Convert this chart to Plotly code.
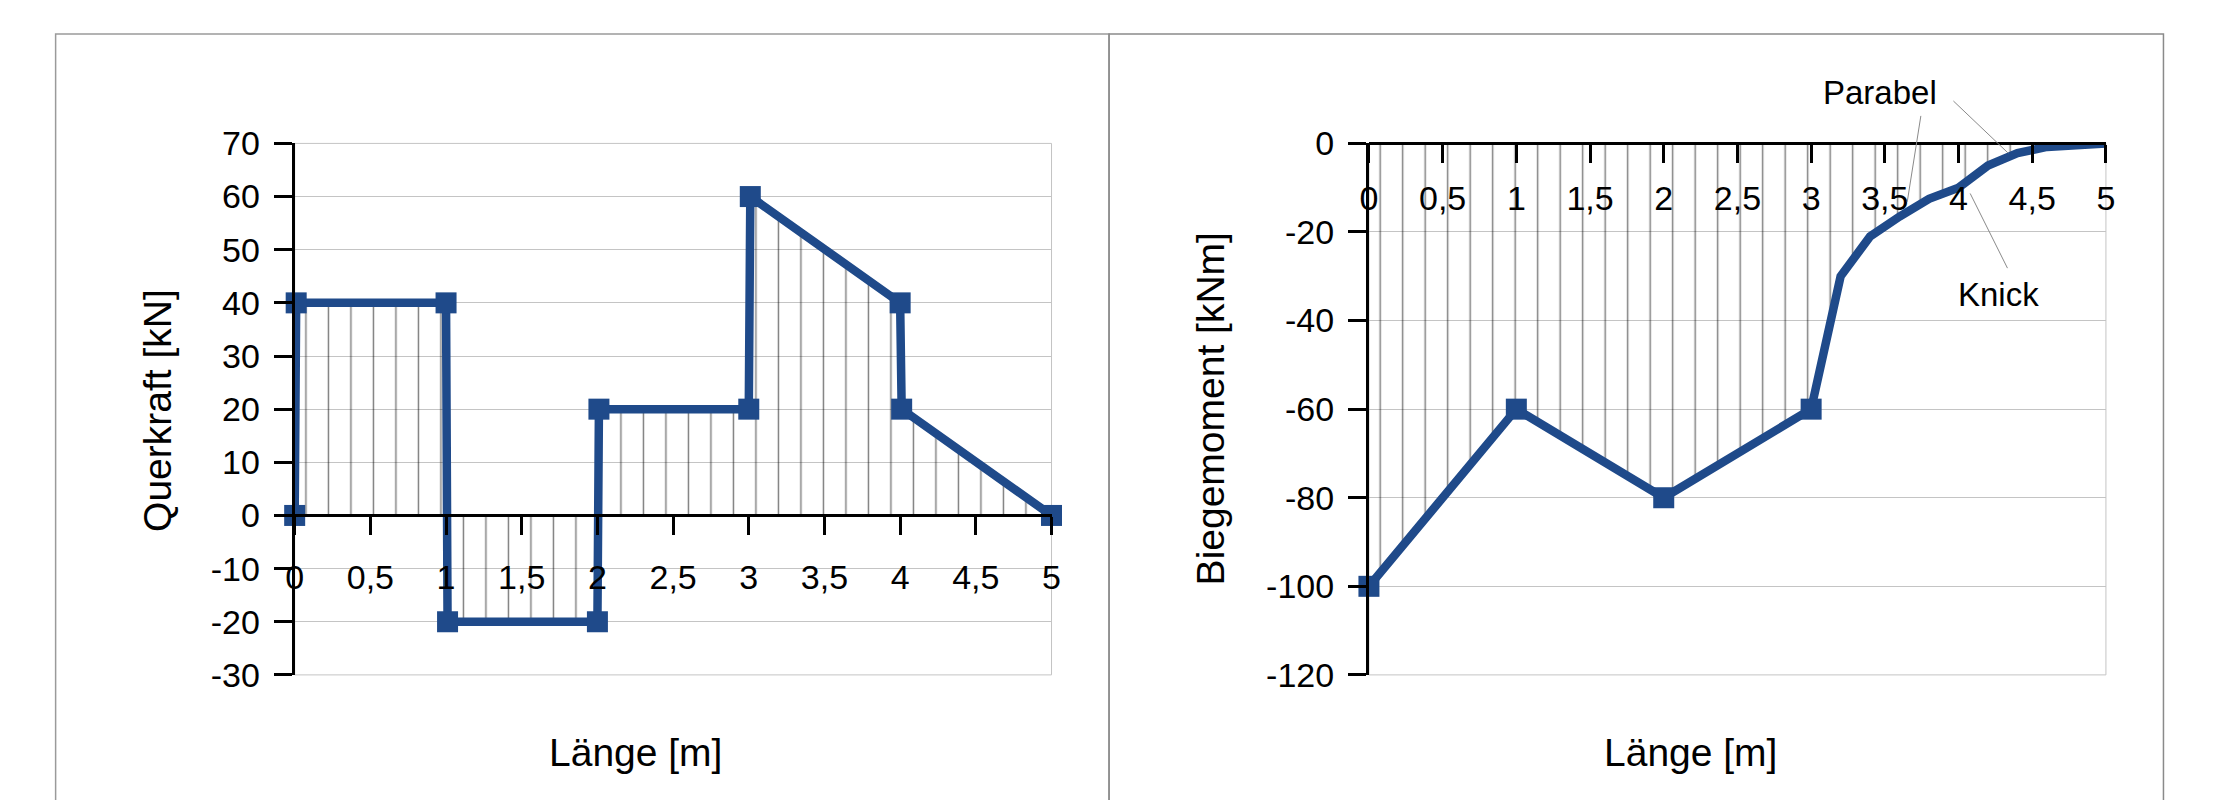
import plotly.graph_objects as go

W, H = 2230, 800

# Querkraft (shear force) diagram
v_x = [0, 0.01, 1, 1.01, 2, 2.01, 3, 3.01, 4, 4.01, 5]
v_y = [0, 40, 40, -20, -20, 20, 20, 60, 40, 20, 0]

# Biegemoment (bending moment) diagram
m_x = [0, 1, 2, 3, 3.2, 3.4, 3.6, 3.8, 4, 4.2, 4.4, 4.6, 5]
m_y = [-100, -60, -80, -60, -30, -21, -16.5, -12.5, -10, -5, -2.2, -0.8, 0]
m_marked = 4  # only the first points carry markers

x_ticks = [0, 0.5, 1, 1.5, 2, 2.5, 3, 3.5, 4, 4.5, 5]
x_ticktext = ["0", "0,5", "1", "1,5", "2", "2,5", "3", "3,5", "4", "4,5", "5"]
v_yticks = [-30, -20, -10, 0, 10, 20, 30, 40, 50, 60, 70]
m_yticks = [-120, -100, -80, -60, -40, -20, 0]

BLUE = "#1f4a8a"
FONT = "Liberation Sans, Arial, sans-serif"


def px_x(p):
    return p / W


def px_y(p):
    # screenshot came out slightly squeezed vertically, compensate
    return 1 - ((p - 16) / 0.957) / H


hatch = dict(shape="|", size=22.5, solidity=0.065,
             fgcolor="#000000", bgcolor="rgba(0,0,0,0)", fillmode="overlay")

fig = go.Figure()

fig.add_trace(go.Scatter(
    x=v_x, y=v_y, xaxis="x", yaxis="y",
    mode="lines+markers",
    line=dict(color=BLUE, width=8.5),
    marker=dict(symbol="square", size=21, color=BLUE),
    fill="tozeroy", fillcolor="rgba(0,0,0,0)", fillpattern=hatch,
    cliponaxis=False, showlegend=False,
))

fig.add_trace(go.Scatter(
    x=m_x, y=m_y, xaxis="x2", yaxis="y2",
    mode="lines",
    line=dict(color=BLUE, width=8.5),
    fill="tozeroy", fillcolor="rgba(0,0,0,0)", fillpattern=hatch,
    showlegend=False,
))
fig.add_trace(go.Scatter(
    x=m_x[:m_marked], y=m_y[:m_marked], xaxis="x2", yaxis="y2",
    mode="markers",
    marker=dict(symbol="square", size=21, color=BLUE),
    cliponaxis=False, showlegend=False,
))

# plot areas (pixel positions)
left_dom = [px_x(288), px_x(1051)]
right_dom = [px_x(1371), px_x(2114)]
y_dom = [px_y(675), px_y(141)]

tickfont = dict(family=FONT, size=34, color="black")

common_x = dict(
    range=[0, 5], tickvals=x_ticks, ticktext=x_ticktext,
    showline=True, linecolor="black", linewidth=3,
    ticks="outside", ticklen=18, tickwidth=3, tickcolor="black",
    showgrid=False, zeroline=False, tickfont=tickfont,
    anchor="free",
)
common_y = dict(
    showline=True, linecolor="black", linewidth=3,
    ticks="outside", ticklen=18, tickwidth=3, tickcolor="black",
    showgrid=True, gridcolor="#c4c4c4", gridwidth=1,
    zeroline=False, tickfont=tickfont, ticklabelstandoff=7,
)

zero_pos = y_dom[0] + (0 - (-30)) / 100 * (y_dom[1] - y_dom[0])

fig.update_layout(
    width=W, height=H,
    margin=dict(l=0, r=0, t=0, b=0),
    paper_bgcolor="white", plot_bgcolor="white",
    font=dict(family=FONT, color="black"),
    xaxis=dict(domain=left_dom, position=zero_pos, ticklabelstandoff=13,
               **common_x),
    yaxis=dict(domain=y_dom, range=[-30, 70], tickvals=v_yticks,
               ticktext=[str(v) for v in v_yticks],
               anchor="x", **common_y),
    xaxis2=dict(domain=right_dom, position=y_dom[1], ticklabelstandoff=6,
                **common_x),
    yaxis2=dict(domain=y_dom, range=[-120, 0], tickvals=m_yticks,
                ticktext=[str(v) for v in m_yticks],
                anchor="x2", **common_y),
)

# panel frames and plot-area borders
shapes = [
    dict(type="rect", xref="paper", yref="paper",
         x0=px_x(47), x1=px_x(1109), y0=-0.1, y1=px_y(31),
         line=dict(color="#9a9a9a", width=1.5), layer="below"),
    dict(type="rect", xref="paper", yref="paper",
         x0=px_x(1109), x1=px_x(2172), y0=-0.1, y1=px_y(31),
         line=dict(color="#8a8a8a", width=1.5), layer="below"),
    dict(type="rect", xref="x domain", yref="y domain",
         x0=0, x1=1, y0=0, y1=1, line=dict(color="#c4c4c4", width=1),
         layer="below"),
    dict(type="rect", xref="x2 domain", yref="y2 domain",
         x0=0, x1=1, y0=0, y1=1, line=dict(color="#c4c4c4", width=1),
         layer="below"),
]
fig.update_layout(shapes=shapes)

title_font = dict(family=FONT, size=39, color="black")
note_font = dict(family=FONT, size=33, color="black")
annotations = [
    dict(text="Querkraft [kN]", x=px_x(149), y=px_y(409), textangle=-90,
         font=title_font),
    dict(text="Biegemoment [kNm]", x=px_x(1211), y=px_y(408), textangle=-90,
         font=title_font),
    dict(text="Länge [m]", x=px_x(632), y=px_y(753), font=title_font),
    dict(text="Länge [m]", x=px_x(1695), y=px_y(753), font=title_font),
    dict(text="Parabel", x=px_x(1886), y=px_y(90), font=note_font),
    dict(text="Knick", x=px_x(2006), y=px_y(293), font=note_font),
]
for a in annotations:
    fig.add_annotation(xref="paper", yref="paper", showarrow=False,
                       xanchor="center", yanchor="middle", **a)

# leader lines: (tip x, tip y, tail x, tail y) in data units
leaders = [
    (3.652, -13.2, 3.746, 6.55),
    (4.337, -2.2, 3.955, 9.9),
    (4.079, -11.3, 4.337, -28.5),
]
for tx, ty, sx, sy in leaders:
    fig.add_annotation(x=tx, y=ty, ax=sx, ay=sy, xref="x2", yref="y2",
                       axref="x2", ayref="y2", text="", showarrow=True,
                       arrowhead=0, arrowwidth=1, arrowcolor="#8a8a8a")

fig.write_html(
    "out.html",
    config={"displayModeBar": False},
    post_script="document.body.style.margin='0';"
                "document.body.style.overflow='hidden';",
)
